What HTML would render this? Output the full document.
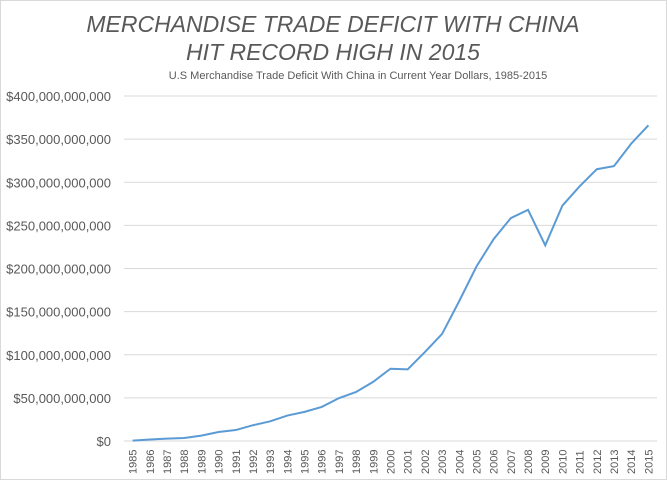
<!DOCTYPE html>
<html><head><meta charset="utf-8"><style>
body{margin:0;background:#fff;}
svg{display:block;font-family:"Liberation Sans",sans-serif;}
</style></head><body>
<svg id="chart" width="667" height="480">
<rect x="0.5" y="0.5" width="666" height="479" fill="#fff" stroke="#d9d9d9"/>
<text x="333" y="32" text-anchor="middle" font-size="23" font-style="italic" fill="#595959">MERCHANDISE TRADE DEFICIT WITH CHINA</text>
<text x="333" y="60" text-anchor="middle" font-size="23" font-style="italic" fill="#595959">HIT RECORD HIGH IN 2015</text>
<text x="358" y="79" text-anchor="middle" font-size="11" fill="#595959">U.S Merchandise Trade Deficit With China in Current Year Dollars, 1985-2015</text>
<g id="grid"></g><g id="yl"></g><g id="xl"></g>
<polyline id="line" fill="none" stroke="#5b9bd5" stroke-width="2"/>
</svg>
<script>
const years=[1985,1986,1987,1988,1989,1990,1991,1992,1993,1994,1995,1996,1997,1998,1999,2000,2001,2002,2003,2004,2005,2006,2007,2008,2009,2010,2011,2012,2013,2014,2015];
const deficit=[0.5,1.7,2.8,3.5,6.2,10.4,12.7,18.3,22.8,29.5,33.8,39.5,49.7,56.9,68.7,83.8,83.1,103.1,124.1,162.3,202.3,234.1,258.5,268.0,226.9,273.0,295.3,315.1,318.7,344.8,366.0];
const yTicks=[0,50,100,150,200,250,300,350,400];
const yTickLabels=["$0","$50,000,000,000","$100,000,000,000","$150,000,000,000","$200,000,000,000","$250,000,000,000","$300,000,000,000","$350,000,000,000","$400,000,000,000"];
const NS="http://www.w3.org/2000/svg";
const X0=124,X1=657,Y0=441,Y1=96;
const xs=i=>X0+(X1-X0)*(i+0.5)/years.length;
const ys=v=>Y0-(Y0-Y1)*v/400;
const grid=document.getElementById('grid'),yl=document.getElementById('yl'),xl=document.getElementById('xl');
yTicks.forEach((t,i)=>{
 const l=document.createElementNS(NS,'line');
 
 
 l.setAttribute('x1',X0);l.setAttribute('x2',X1);l.setAttribute('y1',ys(t));l.setAttribute('y2',ys(t));
 l.setAttribute('stroke','#d9d9d9');grid.appendChild(l);
 const tx=document.createElementNS(NS,'text');
 
 
 tx.setAttribute('x',111);tx.setAttribute('y',ys(t)+5);tx.setAttribute('text-anchor','end');
 tx.setAttribute('font-size','13');tx.setAttribute('fill','#595959');tx.textContent=yTickLabels[i];yl.appendChild(tx);
});
years.forEach((y,i)=>{
 const tx=document.createElementNS(NS,'text');
 
 
 const x=xs(i)+4;
 tx.setAttribute('transform','translate('+x+',474) rotate(-90)');
 tx.setAttribute('font-size','11');tx.setAttribute('fill','#595959');tx.textContent=y;xl.appendChild(tx);
});
document.getElementById('line').setAttribute('points',deficit.map((v,i)=>xs(i)+','+ys(v)).join(' '));
</script>
</body></html>
